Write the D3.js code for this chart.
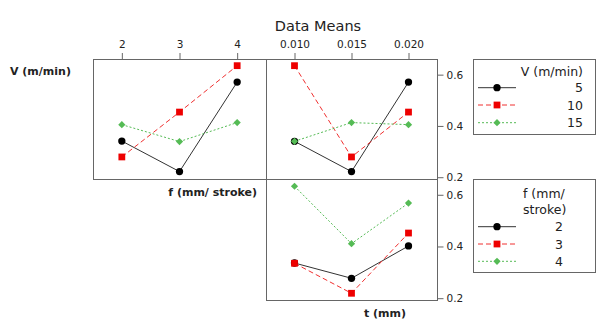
<!DOCTYPE html>
<html><head><meta charset="utf-8">
<script src="https://cdn.jsdelivr.net/npm/d3@7"></script>
<style>body{margin:0;background:#fff;} text{font-family:"DejaVu Sans",Verdana,sans-serif;}</style>
</head><body>
<script>
// ---- data ----
const fLevels = ["2", "3", "4"];
const tLevels = ["0.010", "0.015", "0.020"];
const vSeriesNames = ["5", "10", "15"];
const fSeriesNames = ["2", "3", "4"];
// mean response of V levels across f levels (top-left)
const vByF = {
  "5":  [0.341, 0.222, 0.571],
  "10": [0.279, 0.454, 0.635],
  "15": [0.405, 0.339, 0.413]
};
// mean response of V levels across t levels (top-right)
const vByT = {
  "5":  [0.340, 0.222, 0.571],
  "10": [0.635, 0.279, 0.454],
  "15": [0.340, 0.413, 0.405]
};
// mean response of f levels across t levels (bottom-right)
const fByT = {
  "2": [0.336, 0.277, 0.402],
  "3": [0.335, 0.219, 0.452],
  "4": [0.633, 0.411, 0.568]
};
const yTicks = [0.2, 0.4, 0.6];

// ---- drawing ----
const W = 610, H = 328;
const svg = d3.select("body").append("svg").attr("width", W).attr("height", H);

const styles = [
  {color: "#000", line: "#333", dash: null, shape: d3.symbolCircle, size: 42, rot: 0},
  {color: "#ee0000", line: "#f03030", dash: "5,3", shape: d3.symbolSquare, size: 46, rot: 0},
  {color: "#55bb55", line: "#55bb55", dash: "2,2", shape: d3.symbolSquare, size: 26, rot: 45}
];

const PL = 93, PM = 266, PR = 437, PT = 59, PMid = 179, PB = 300;
const yDomain = [0.193, 0.661];
const xF = d3.scalePoint().domain(fLevels).range([PL, PM]).padding(0.5);
const xT = d3.scalePoint().domain(tLevels).range([PM, PR]).padding(0.5);
const yTop = d3.scaleLinear().domain(yDomain).range([PMid, PT]);
const yBot = d3.scaleLinear().domain(yDomain).range([PB, PMid]);

function marker(st, px, py) {
  svg.append("path").attr("d", d3.symbol().type(st.shape).size(st.size)())
    .attr("transform", `translate(${px},${py}) rotate(${st.rot})`).attr("fill", st.color);
}

function drawPanel(x, y, data, names, x0, x1, y0, y1) {
  svg.append("rect").attr("x", x0 + 0.5).attr("y", y0 + 0.5)
    .attr("width", x1 - x0).attr("height", y1 - y0)
    .attr("fill", "none").attr("stroke", "#666").attr("stroke-width", 1);
  names.forEach((n, i) => {
    const st = styles[i];
    const pts = x.domain().map((k, j) => [x(k), y(data[n][j])]);
    svg.append("path").attr("d", d3.line()(pts)).attr("fill", "none")
      .attr("stroke", st.line).attr("stroke-width", 1)
      .attr("stroke-dasharray", st.dash);
    pts.forEach(p => marker(st, p[0], p[1]));
  });
}

drawPanel(xF, yTop, vByF, vSeriesNames, PL, PM, PT, PMid);
drawPanel(xT, yTop, vByT, vSeriesNames, PM, PR, PT, PMid);
drawPanel(xT, yBot, fByT, fSeriesNames, PM, PR, PMid, PB);

// top axes
const topAxF = d3.axisTop(xF).tickSize(6).tickSizeOuter(0);
const topAxT = d3.axisTop(xT).tickSize(6).tickSizeOuter(0);
function styleAxis(g) {
  g.select(".domain").remove();
  g.selectAll("line").attr("stroke", "#666");
  g.selectAll("text").attr("font-size", 10.5).attr("fill", "#222")
    .style("font-family", "'DejaVu Sans',sans-serif");
}
svg.append("g").attr("transform", `translate(0,${PT})`).call(topAxF).call(styleAxis)
  .selectAll("text").attr("dy", "-0.15em");
svg.append("g").attr("transform", `translate(0,${PT})`).call(topAxT).call(styleAxis)
  .selectAll("text").attr("dy", "-0.15em");
// right axes
svg.append("g").attr("transform", `translate(${PR + 0.5},0)`)
  .call(d3.axisRight(yTop).tickValues(yTicks).tickFormat(d3.format(".1f")).tickSize(6))
  .call(styleAxis);
svg.append("g").attr("transform", `translate(${PR + 0.5},0)`)
  .call(d3.axisRight(yBot).tickValues(yTicks).tickFormat(d3.format(".1f")).tickSize(6))
  .call(styleAxis);

// title and variable labels
svg.append("text").attr("x", 318).attr("y", 31).attr("text-anchor", "middle")
  .attr("font-size", 14.5).attr("fill", "#222").text("Data Means");
svg.append("text").attr("x", 10).attr("y", 75).attr("font-size", 11).attr("font-weight", "bold")
  .attr("fill", "#222").text("V (m/min)");
svg.append("text").attr("x", 257).attr("y", 196).attr("text-anchor", "end").attr("font-size", 11)
  .attr("font-weight", "bold").attr("fill", "#222").text("f (mm/ stroke)");
svg.append("text").attr("x", 406).attr("y", 317).attr("text-anchor", "end").attr("font-size", 11)
  .attr("font-weight", "bold").attr("fill", "#222").text("t (mm)");

// legends
function legend(x0, y0, w, h, titleLines, titleX, titleY, titleAnchor, names, rightX, rowY) {
  svg.append("rect").attr("x", x0 + 0.5).attr("y", y0 + 0.5).attr("width", w).attr("height", h)
    .attr("fill", "none").attr("stroke", "#666");
  titleLines.forEach((t, i) => {
    svg.append("text").attr("x", titleX).attr("y", titleY + i * 16)
      .attr("text-anchor", titleAnchor).attr("font-size", 12.5).attr("fill", "#222").text(t);
  });
  names.forEach((n, i) => {
    const st = styles[i];
    const yy = rowY[i];
    svg.append("line").attr("x1", x0 + 5).attr("x2", x0 + 43).attr("y1", yy).attr("y2", yy)
      .attr("stroke", st.line).attr("stroke-dasharray", st.dash);
    marker(st, x0 + 24, yy);
    svg.append("text").attr("x", rightX).attr("y", yy + 4.5).attr("text-anchor", "end")
      .attr("font-size", 12.5).attr("fill", "#222").text(n);
  });
}
legend(473, 59, 122, 75, ["V (m/min)"], 583, 75.5, "end", vSeriesNames, 583, [87.7, 105, 122.7]);
legend(473, 179, 122, 93, ["f (mm/", "stroke)"], 523, 197.5, "start", fSeriesNames, 563, [226.7, 244, 261.3]);
</script>
</body></html>
